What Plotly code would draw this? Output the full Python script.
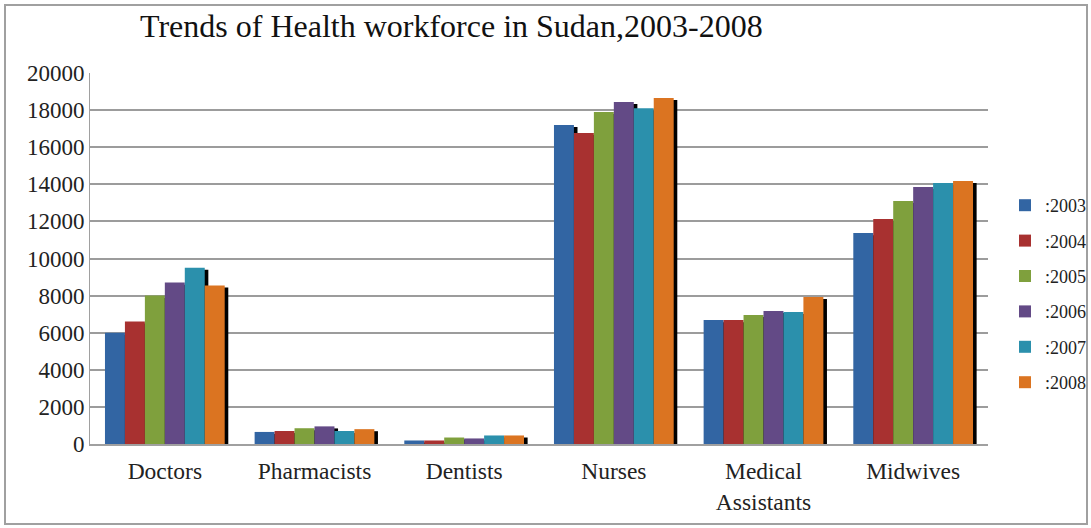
import plotly.graph_objects as go

categories = ["Doctors", "Pharmacists", "Dentists", "Nurses", "Medical<br>Assistants", "Midwives"]
years = [":2003", ":2004", ":2005", ":2006", ":2007", ":2008"]
v2003 = [6000, 650, 190, 17200, 6680, 11370]
v2004 = [6600, 700, 190, 16770, 6680, 12130]
v2005 = [8000, 850, 350, 17900, 6950, 13100]
v2006 = [8700, 950, 300, 18440, 7170, 13850]
v2007 = [9500, 700, 460, 18100, 7120, 14070]
v2008 = [8550, 800, 460, 18650, 7920, 14180]
series = [v2003, v2004, v2005, v2006, v2007, v2008]
colors = ["#3265A3", "#A83130", "#7FA03D", "#634A86", "#2B90AC", "#DB7421"]

FONT = "Liberation Serif"
bw = 0.8 / 6

fig = go.Figure()
# drop shadows
for i, vals in enumerate(series):
    fig.add_trace(go.Bar(
        x=categories, y=vals, base=-110, width=bw, offset=-0.4 + i * bw + 0.024,
        marker=dict(color="black", line=dict(width=0)), showlegend=False, hoverinfo="skip"))
# bars
for i, vals in enumerate(series):
    fig.add_trace(go.Bar(
        x=categories, y=vals, name=years[i], width=bw, offset=-0.4 + i * bw,
        marker=dict(color=colors[i], line=dict(width=0)), legendgroup=years[i]))

fig.update_layout(
    width=1091, height=528,
    barmode="overlay",
    paper_bgcolor="white", plot_bgcolor="white",
    margin=dict(l=90, r=103, t=73, b=84, autoexpand=False),
    font=dict(family=FONT, color="#222222", size=24),
    title=dict(text="Trends of Health workforce in Sudan,2003-2008",
               font=dict(family=FONT, size=32, color="#111111"),
               x=140 / 1091, xanchor="left", y=0.973, yanchor="top"),
    xaxis=dict(showgrid=False, showline=True, linecolor="#A0A0A0", linewidth=2,
               ticks="", ticklabelstandoff=5,
               tickfont=dict(family=FONT, size=23.5, color="#222222")),
    yaxis=dict(range=[0, 20000], dtick=2000, showgrid=True, gridcolor="#9C9C9C",
               gridwidth=1.5, showline=True, linecolor="#A0A0A0", linewidth=1,
               zeroline=False, ticks="", tickformat="d",
               tickfont=dict(family=FONT, size=23, color="#222222")),
    legend=dict(xref="container", yref="container", x=1005 / 1091, y=1 - 187 / 528,
                xanchor="left", yanchor="top",
                font=dict(family=FONT, size=18, color="#222222"),
                tracegroupgap=9, bgcolor="rgba(0,0,0,0)"),
    shapes=[dict(type="rect", xref="paper", yref="paper",
                 x0=-85 / 898, x1=(1087 - 90) / 898, y0=-80 / 371, y1=(444 - 5) / 371,
                 line=dict(color="#A0A0A0", width=2))],
)

fig.write_html("out.html", config={"displayModeBar": False},
               post_script="document.body.style.margin='0';")
